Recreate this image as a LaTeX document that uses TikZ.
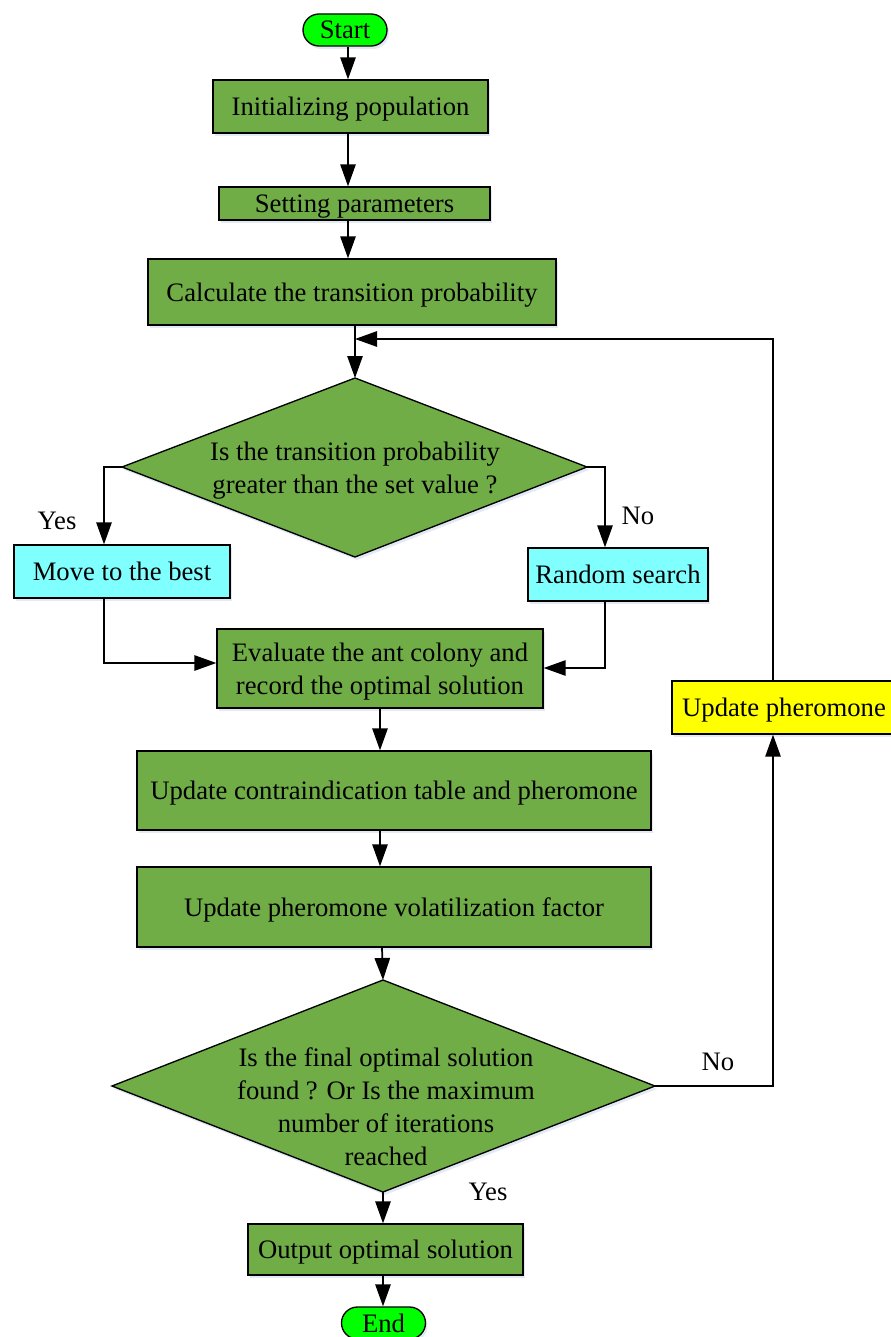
\documentclass[tikz,border=0pt]{standalone}
\usepackage{fontspec}
\setmainfont{Liberation Serif}
\usetikzlibrary{arrows.meta,shadows}
\definecolor{boxgreen}{HTML}{70AD47}
\definecolor{startgreen}{HTML}{00FF00}
\definecolor{boxcyan}{HTML}{80FFFF}
\definecolor{boxyellow}{HTML}{FFFF00}
\definecolor{shadowblue}{HTML}{E3EAF4}
\begin{document}
\begin{tikzpicture}[x=0.75pt,y=-0.75pt,
  font=\fontsize{20}{24.75}\selectfont,
  shad/.style={drop shadow={shadow xshift=1.5pt,shadow yshift=-2.2pt,fill=shadowblue,opacity=1}},
  base/.style={draw=black,line width=1pt,inner sep=0pt,align=center,text depth=0pt,shad},
  gbox/.style={base,fill=boxgreen},
  cbox/.style={base,fill=boxcyan},
  ybox/.style={base,fill=boxyellow},
  term/.style={base,fill=startgreen,rounded corners=12pt,minimum width=63pt,minimum height=24pt},
  arr/.style={line width=1.3pt,-{Triangle[width=11.5pt,length=16.5pt]}},
  lbl/.style={inner sep=0pt}]
\useasboundingbox (0,0) rectangle (891,1337);
\fill[white] (0,0) rectangle (891,1337);

% nodes
\node[term] (start) at (345,30) {Start};
\node[gbox,minimum width=206.25pt,minimum height=39.75pt] (init) at (350.5,106.5) {Initializing population};
\node[gbox,minimum width=203.25pt,minimum height=24.75pt] (setp) at (354.5,203.5) {Setting parameters};
\node[gbox,minimum width=306pt,minimum height=49.5pt] (calc) at (352,292) {Calculate the transition probability};

% diamond 1
\coordinate (d1t) at (355,378);
\coordinate (d1l) at (122,467);
\coordinate (d1r) at (587,467);
\coordinate (d1b) at (355,557);
\path[shad,fill=boxgreen,draw=black,line width=1pt] (d1t) -- (d1r) -- (d1b) -- (d1l) -- cycle;
\node[lbl,align=center] (d1) at (355,471) {Is the transition probability\\greater than the set value ?};

\node[cbox,minimum width=162pt,minimum height=39.75pt] (move) at (122,571.5) {Move to the best};
\node[cbox,minimum width=135pt,minimum height=39.75pt] (rand) at (618,574.5) {Random search};
\node[gbox,minimum width=244.5pt,minimum height=59.25pt] (eval) at (380,668.5) {Evaluate the ant colony and\\record the optimal solution};
\node[gbox,minimum width=385.5pt,minimum height=59.25pt] (upd1) at (394,790.5) {Update contraindication table and pheromone};
\node[gbox,minimum width=385.5pt,minimum height=60pt] (upd2) at (394,907) {Update pheromone volatilization factor};

% diamond 2
\coordinate (d2t) at (383,980);
\coordinate (d2l) at (112,1086);
\coordinate (d2r) at (655,1086);
\coordinate (d2b) at (383,1192);
\path[shad,fill=boxgreen,draw=black,line width=1pt] (d2t) -- (d2r) -- (d2b) -- (d2l) -- cycle;
\node[lbl,align=center] (d2) at (386,1107) {Is the final optimal solution\\found ? Or Is the maximum\\number of iterations\\reached};

\node[ybox,minimum width=168pt,minimum height=39.75pt] (updp) at (784,707.5) {Update pheromone};
\node[gbox,minimum width=206.25pt,minimum height=38.25pt] (out) at (385.5,1249.5) {Output optimal solution};
\node[term] (end) at (383.5,1323) {End};

% guide coordinates
\coordinate (xa) at (348,0);
\coordinate (xb) at (355,0);
\coordinate (xc) at (380,0);
\coordinate (xd) at (382,0);
\coordinate (xe) at (383,0);
\coordinate (xl) at (104,0);
\coordinate (xr) at (605,0);
\coordinate (xf) at (773,0);
\coordinate (yfb) at (0,339);
\coordinate (yl) at (0,663);
\coordinate (yr) at (0,668);

% connectors
\draw[arr] (start.south -| xa) -- (init.north -| xa);
\draw[arr] (init.south -| xa) -- (setp.north -| xa);
\draw[arr] (setp.south -| xa) -- (calc.north -| xa);
\draw[arr] (calc.south -| xb) -- (d1t);
\draw[arr] (d1l) -| (move.north -| xl);
\draw[arr] (d1r) -| (rand.north -| xr);
\draw[arr] (move.south -| xl) |- (eval.west |- yl);
\draw[arr] (rand.south -| xr) |- (eval.east |- yr);
\draw[arr] (eval.south -| xc) -- (upd1.north -| xc);
\draw[arr] (upd1.south -| xc) -- (upd2.north -| xc);
\draw[arr] (upd2.south -| xd) -- (d2t);
\draw[arr] (d2r) -| (updp.south -| xf);
\draw[arr] (updp.north -| xf) |- (xb |- yfb);
\draw[arr] (d2b) -- (out.north -| xe);
\draw[arr] (out.south -| xe) -- (end.north -| xe);

% labels
\node[lbl] (yes1) at (57,521) {Yes};
\node[lbl] (no1) at (638,516) {No};
\node[lbl] (no2) at (718,1062) {No};
\node[lbl] (yes2) at (488,1192) {Yes};
\end{tikzpicture}
\end{document}
